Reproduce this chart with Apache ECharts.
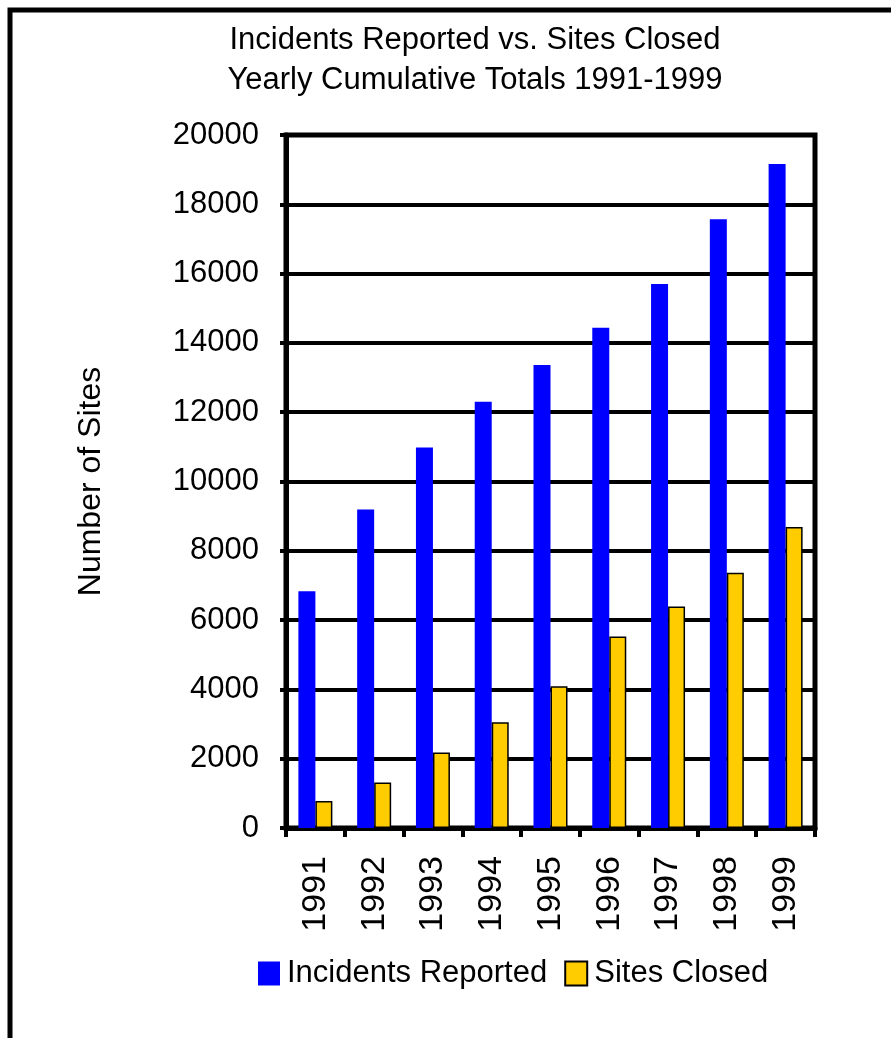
<!DOCTYPE html>
<html>
<head>
<meta charset="utf-8">
<title>Incidents Reported vs. Sites Closed</title>
<script src="https://cdn.jsdelivr.net/npm/echarts@6/dist/echarts.min.js"></script>
<style>
  html, body { margin: 0; padding: 0; background: #ffffff; }
  #chart { width: 891px; height: 1038px; }
</style>
</head>
<body>
<div id="chart"></div>
<script>
// Yearly cumulative totals
const years = ['1991', '1992', '1993', '1994', '1995', '1996', '1997', '1998', '1999'];
const incidentsReported = [6830, 9190, 10980, 12300, 13360, 14440, 15700, 17570, 19160];
const sitesClosed = [780, 1310, 2180, 3050, 4090, 5530, 6390, 7370, 8690];
const yTicks = { min: 0, max: 20000, interval: 2000 };

const FONT = '"Liberation Sans", Arial, Helvetica, sans-serif';

const chart = echarts.init(document.getElementById('chart'), null, { renderer: 'canvas' });

chart.setOption({
  backgroundColor: '#ffffff',
  animation: false,
  title: {
    text: 'Incidents Reported vs. Sites Closed\nYearly Cumulative Totals 1991-1999',
    left: 470,
    top: 15,
    textAlign: 'center',
    textStyle: {
      fontFamily: FONT,
      fontSize: 31,
      fontWeight: 'normal',
      color: '#000000',
      lineHeight: 40
    }
  },
  graphic: [{
    type: 'rect',
    silent: true,
    shape: { x: 10, y: 10, width: 1000, height: 1200 },
    style: { fill: 'none', stroke: '#000000', lineWidth: 5 }
  }],
  legend: {
    data: ['Incidents Reported', 'Sites Closed'],
    left: 253,
    top: 953,
    itemWidth: 22,
    itemHeight: 24,
    itemGap: 17,
    icon: 'rect',
    textStyle: { fontFamily: FONT, fontSize: 31, color: '#000000', padding: [0, 0, 0, 2] }
  },
  grid: {
    left: 286,
    right: 76,
    top: 135,
    bottom: 210,
    show: true,
    borderColor: '#000000',
    borderWidth: 5,
    containLabel: false
  },
  xAxis: {
    type: 'category',
    data: years,
    axisLine: { show: true, lineStyle: { color: '#000000', width: 5 } },
    axisTick: { show: true, length: 9, lineStyle: { color: '#000000', width: 4 } },
    axisLabel: {
      rotate: 90,
      margin: 28,
      fontFamily: FONT,
      fontSize: 34,
      color: '#000000'
    },
    splitLine: { show: false }
  },
  yAxis: {
    type: 'value',
    min: yTicks.min,
    max: yTicks.max,
    interval: yTicks.interval,
    name: 'Number of Sites',
    nameLocation: 'middle',
    nameGap: 179,
    nameTextStyle: { fontFamily: FONT, fontSize: 32, color: '#000000' },
    axisLine: { show: true, lineStyle: { color: '#000000', width: 5 } },
    axisTick: { show: true, length: 6, lineStyle: { color: '#000000', width: 4 } },
    axisLabel: {
      margin: 27,
      fontFamily: FONT,
      fontSize: 31,
      color: '#000000',
      formatter: (v) => String(v)
    },
    splitLine: { show: true, lineStyle: { color: '#000000', width: 4 } }
  },
  series: [
    {
      name: 'Incidents Reported',
      type: 'bar',
      data: incidentsReported,
      barWidth: 17,
      barGap: '0%',
      itemStyle: { color: '#0000ff' }
    },
    {
      name: 'Sites Closed',
      type: 'bar',
      data: sitesClosed,
      barWidth: 17,
      barGap: '0%',
      itemStyle: { color: '#ffcc00', borderColor: '#000000', borderWidth: 1.5 }
    }
  ]
});
</script>
</body>
</html>
